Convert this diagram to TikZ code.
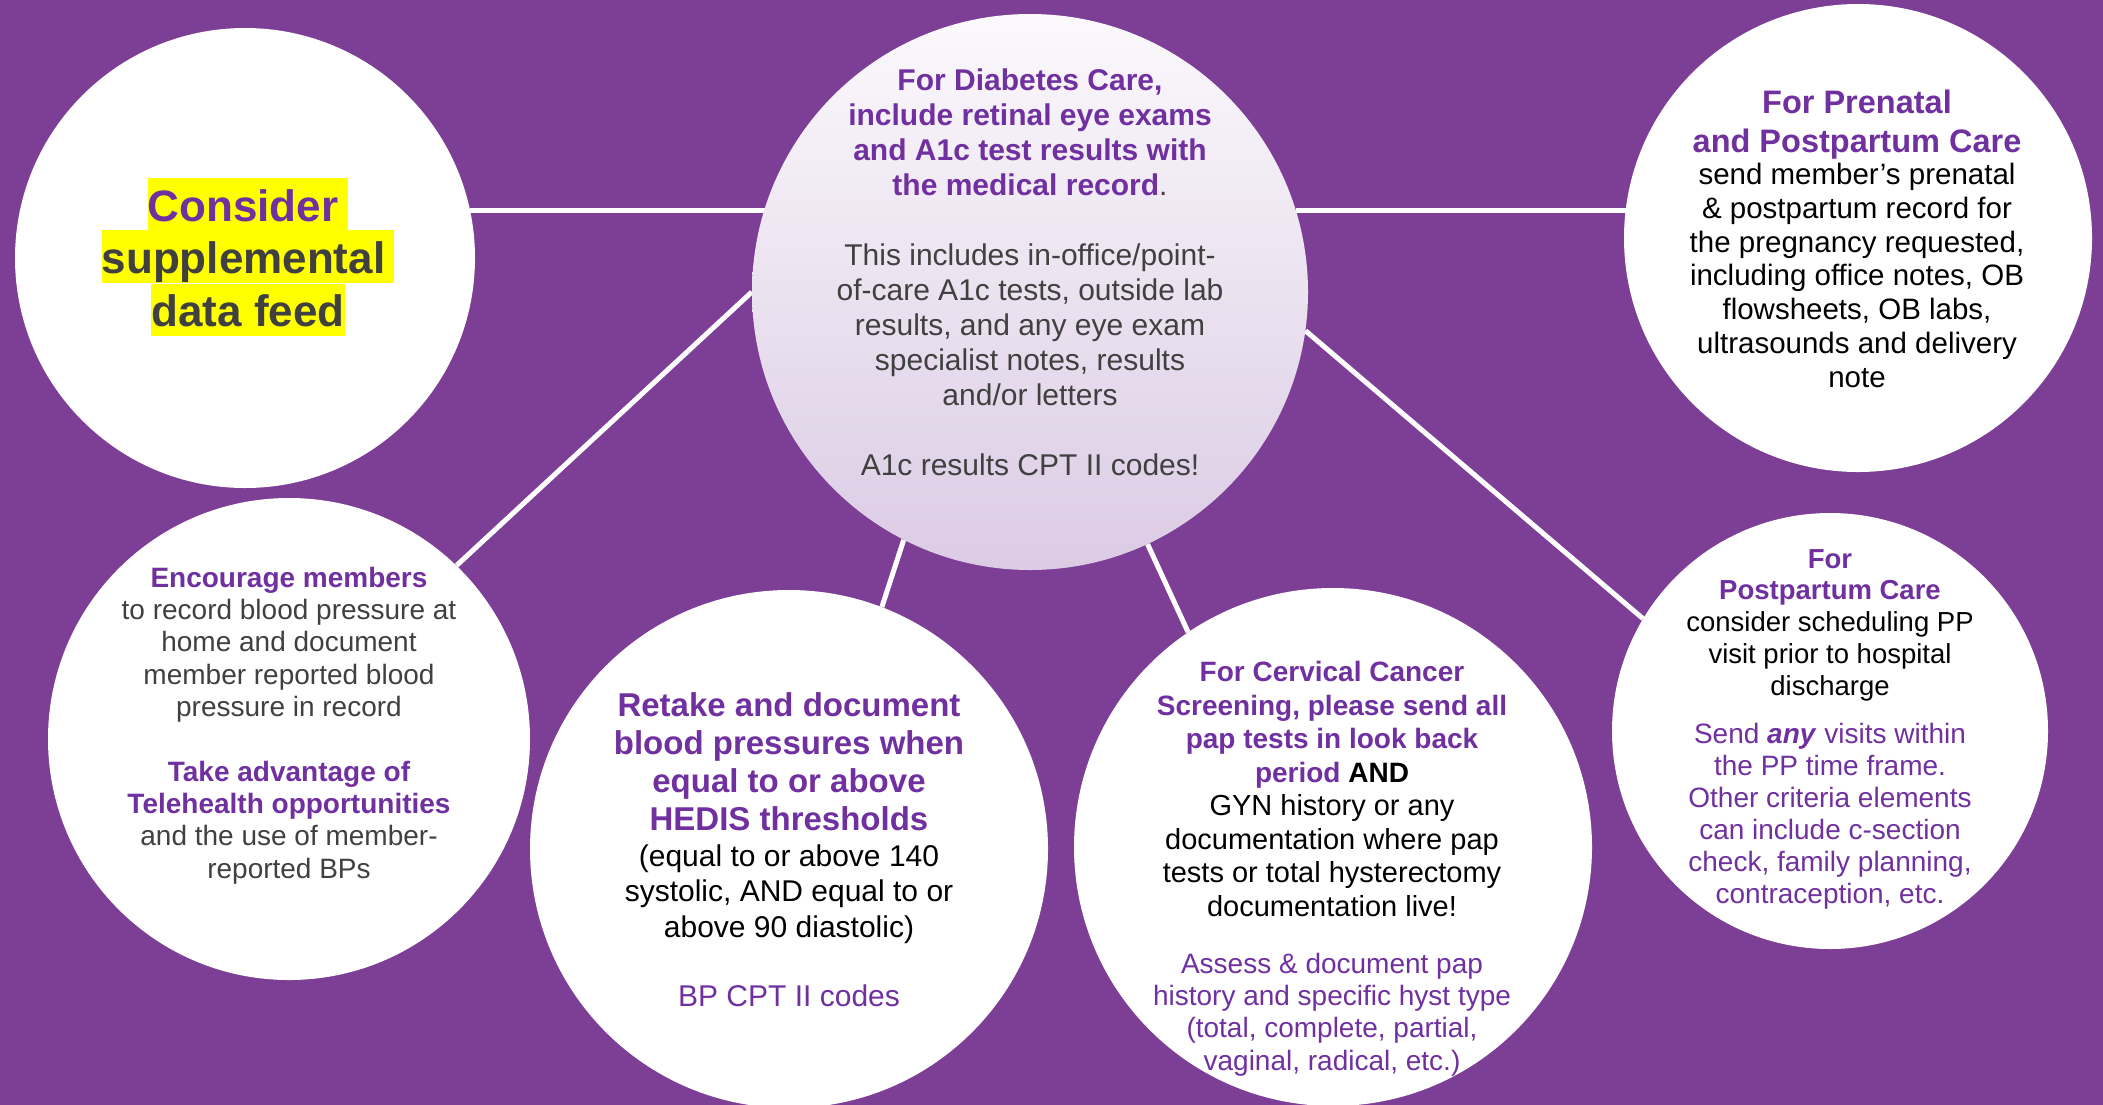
\documentclass[tikz,border=0pt]{standalone}
\usepackage{fontspec}
\setmainfont{Liberation Sans}
\setlength{\fboxsep}{0pt}
\definecolor{bgpurple}{RGB}{125,62,150}
\definecolor{hpurple}{RGB}{112,48,160}
\definecolor{dgray}{RGB}{64,64,64}
\definecolor{hlyellow}{RGB}{255,255,0}
\definecolor{gradtop}{RGB}{251,249,252}
\definecolor{gradbot}{RGB}{219,203,228}
\newcommand{\hpur}{\color{hpurple}\bfseries}
\newcommand{\hlstrut}{\rule[-9pt]{0pt}{52pt}}
\pgfdeclarelayer{bglayer}
\pgfdeclarelayer{linelayer}
\pgfsetlayers{bglayer,linelayer,main}
\tikzset{
  bubble/.style={circle, fill=white, inner sep=0pt, draw=none},
  conn/.style={draw=white, line width=5pt},
  txt/.style={align=center, inner sep=0pt, anchor=base},
}
\begin{document}
\begin{tikzpicture}[x=1pt,y=-1pt]
\useasboundingbox (0,0) rectangle (2103,1104);
\begin{pgfonlayer}{bglayer}
\fill[bgpurple] (-10,-10) rectangle (2113,1114);
\end{pgfonlayer}

% circles
\node[bubble, minimum size=460pt] (sup) at (245,258) {};
\node[circle, inner sep=0pt, minimum size=556pt, top color=gradtop, bottom color=gradbot] (dia) at (1030,292) {};
\node[bubble, minimum size=468pt] (pre) at (1858,238) {};
\node[bubble, minimum size=482pt] (enc) at (289,739) {};
\node[bubble, minimum size=518pt] (ret) at (789,849) {};
\node[bubble, minimum size=518pt] (cer) at (1333,847) {};
\node[bubble, minimum size=436pt] (pp) at (1830,731) {};

% connectors
\begin{pgfonlayer}{linelayer}
\draw[conn] (sup.12.3) -- (sup.12.3 -| dia.162.6);
\draw[conn] (dia.17.4) -- (dia.17.4 -| pre.172.9);
\draw[conn] (dia.180) -- (enc.46);
\draw[conn] (dia.-8.8) -- (pp.149);
\draw[conn] (dia.243.9) -- (ret.69.5);
\draw[conn] (dia.295.7) -- (cer.124.7);
\end{pgfonlayer}

% texts (anchored at the baseline of their last line)
\node[align=center, inner sep=0pt, text=dgray, font=\fontsize{44}{52}\selectfont\bfseries] (supt) at (248,257)
  {\colorbox{hlyellow}{\hlstrut{\color{hpurple}Consider}\hspace{10pt}}\\
   \colorbox{hlyellow}{\hlstrut supplemental\hspace{9pt}}\\
   \colorbox{hlyellow}{\hlstrut data feed}};

\node[txt, text=dgray, font=\fontsize{30}{35}\selectfont] (diat) at (1030,475)
  {{\hpur For Diabetes Care,}\\
   {\hpur include retinal eye exams}\\
   {\hpur and A1c test results with}\\
   {\hpur the medical record}.\\[35pt]
   This includes in-office/point-\\
   of-care A1c tests, outside lab\\
   results, and any eye exam\\
   specialist notes, results\\
   and/or letters\\[35pt]
   A1c results CPT II codes!};

\node[txt, text=hpurple, font=\fontsize{32.5}{39}\selectfont\bfseries] (preh) at (1857,152)
  {For Prenatal\\and Postpartum Care};
\node[txt, text=black, font=\fontsize{29.5}{33.7}\selectfont] (preb) at (1857,387)
  {send member’s prenatal\\
   \& postpartum record for\\
   the pregnancy requested,\\
   including office notes, OB\\
   flowsheets, OB labs,\\
   ultrasounds and delivery\\
   note};

\node[txt, text=dgray, font=\fontsize{28}{32.3}\selectfont] (enct) at (289,878)
  {{\hpur Encourage members}\\
   to record blood pressure at\\
   home and document\\
   member reported blood\\
   pressure in record\\[32.3pt]
   {\hpur Take advantage of}\\
   {\hpur Telehealth opportunities}\\
   and the use of member-\\
   reported BPs};

\node[txt, text=hpurple, font=\fontsize{33}{38}\selectfont\bfseries] (reth) at (789,830)
  {Retake and document\\
   blood pressures when\\
   equal to or above\\
   HEDIS thresholds};
\node[txt, text=black, font=\fontsize{30}{35.5}\selectfont] (retb) at (789,1006)
  {(equal to or above 140\\
   systolic, AND equal to or\\
   above 90 diastolic)\\[33.5pt]
   {\color{hpurple}BP CPT II codes}};

\node[txt, text=black, font=\fontsize{29}{33.5}\selectfont] (cert) at (1332,916)
  {{\hpur\fontsize{28}{33.5}\selectfont For Cervical Cancer}\\
   {\hpur\fontsize{28}{33.5}\selectfont Screening, please send all}\\
   {\hpur\fontsize{28}{33.5}\selectfont pap tests in look back}\\
   {\fontsize{28}{33.5}\selectfont\bfseries{\color{hpurple}period} AND}\\
   GYN history or any\\
   documentation where pap\\
   tests or total hysterectomy\\
   documentation live!};
\node[txt, text=hpurple, font=\fontsize{28}{32.3}\selectfont] (cerb) at (1332,1070)
  {Assess \& document pap\\
   history and specific hyst type\\
   (total, complete, partial,\\
   vaginal, radical, etc.)};

\node[txt, text=black, font=\fontsize{27.5}{31.7}\selectfont] (ppt) at (1830,695)
  {{\hpur For}\\
   {\hpur Postpartum Care}\\
   consider scheduling PP\\
   visit prior to hospital\\
   discharge};
\node[txt, text=hpurple, font=\fontsize{28}{32}\selectfont] (ppb) at (1830,903)
  {Send \textbf{\textit{any}} visits within\\
   the PP time frame.\\
   Other criteria elements\\
   can include c-section\\
   check, family planning,\\
   contraception, etc.};
\end{tikzpicture}
\end{document}
